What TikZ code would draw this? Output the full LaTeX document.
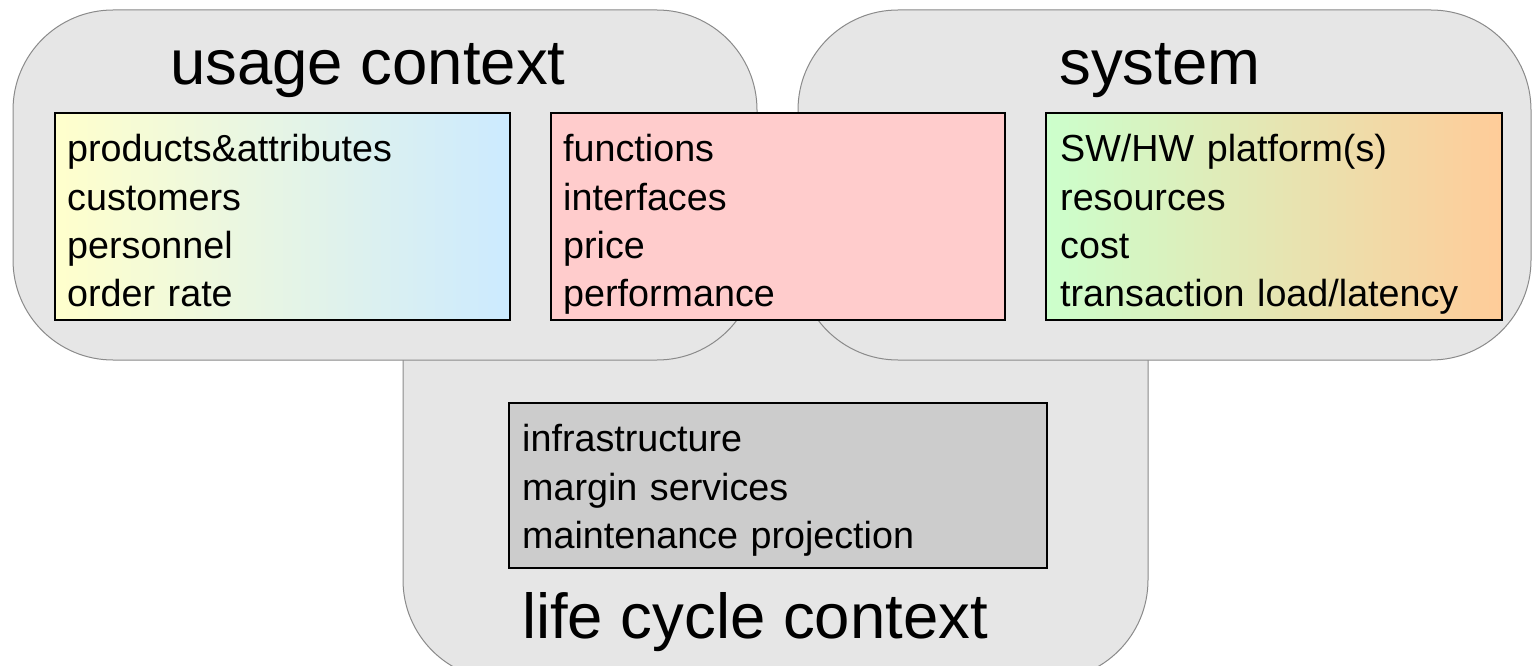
\documentclass[tikz,border=0pt]{standalone}
\usepackage{fontspec}
\setmainfont{Liberation Sans}
\definecolor{ctxfill}{HTML}{E6E6E6}
\definecolor{ctxline}{HTML}{8A8A8A}
\definecolor{pinkfill}{HTML}{FFCCCC}
\definecolor{greyfill}{HTML}{CCCCCC}
\definecolor{uleft}{HTML}{FFFFCC}
\definecolor{uright}{HTML}{CCEAFF}
\definecolor{sleft}{HTML}{CCFFCC}
\definecolor{sright}{HTML}{FFCC99}
\begin{document}
\begin{tikzpicture}[x=1pt,y=-1pt,
  ctx/.style={draw=ctxline, fill=ctxfill, line width=1pt, rounded corners=100pt},
  itembox/.style={draw=black, line width=1.1pt},
  items/.style={anchor=base west, align=left, text width=#1, inner sep=0pt,
    font=\fontsize{37.7}{48.5}\selectfont},
  ctxtitle/.style={anchor=base, inner sep=0pt, font=\fontsize{63.5}{70}\selectfont}]
\useasboundingbox (0,0) rectangle (1532,666);
\clip (0,0) rectangle (1532,666);
% context shapes
\draw[ctx] (403,200) rectangle (1148,680);
\draw[ctx] (13,10) rectangle (757,360);
\draw[ctx] (798,10) rectangle (1531,360);
% titles
\node[ctxtitle] (tusage) at (368,85) {usage context};
\node[ctxtitle] (tsystem) at (1160,85) {system};
\node[ctxtitle] (tlife) at (755,638) {life cycle context};
% item boxes
\draw[itembox, left color=uleft, right color=uright] (55,113) rectangle (510,320);
\draw[itembox, fill=pinkfill] (551,113) rectangle (1005,320);
\draw[itembox, left color=sleft, right color=sright] (1046,113) rectangle (1502,320);
\draw[itembox, fill=greyfill] (509,403) rectangle (1047,568);
% item texts
\node[items=430pt] (iusage) at (67,161.5) {products\&attributes\\customers\\personnel\\order rate};
\node[items=430pt] (ifunc) at (563,161.5) {functions\\interfaces\\price\\performance};
\node[items=440pt] (isys) at (1060,161.5) {SW/HW platform(s)\\resources\\cost\\transaction load/latency};
\node[items=520pt] (ilife) at (522,451.5) {infrastructure\\margin services\\maintenance projection};
\end{tikzpicture}
\end{document}
